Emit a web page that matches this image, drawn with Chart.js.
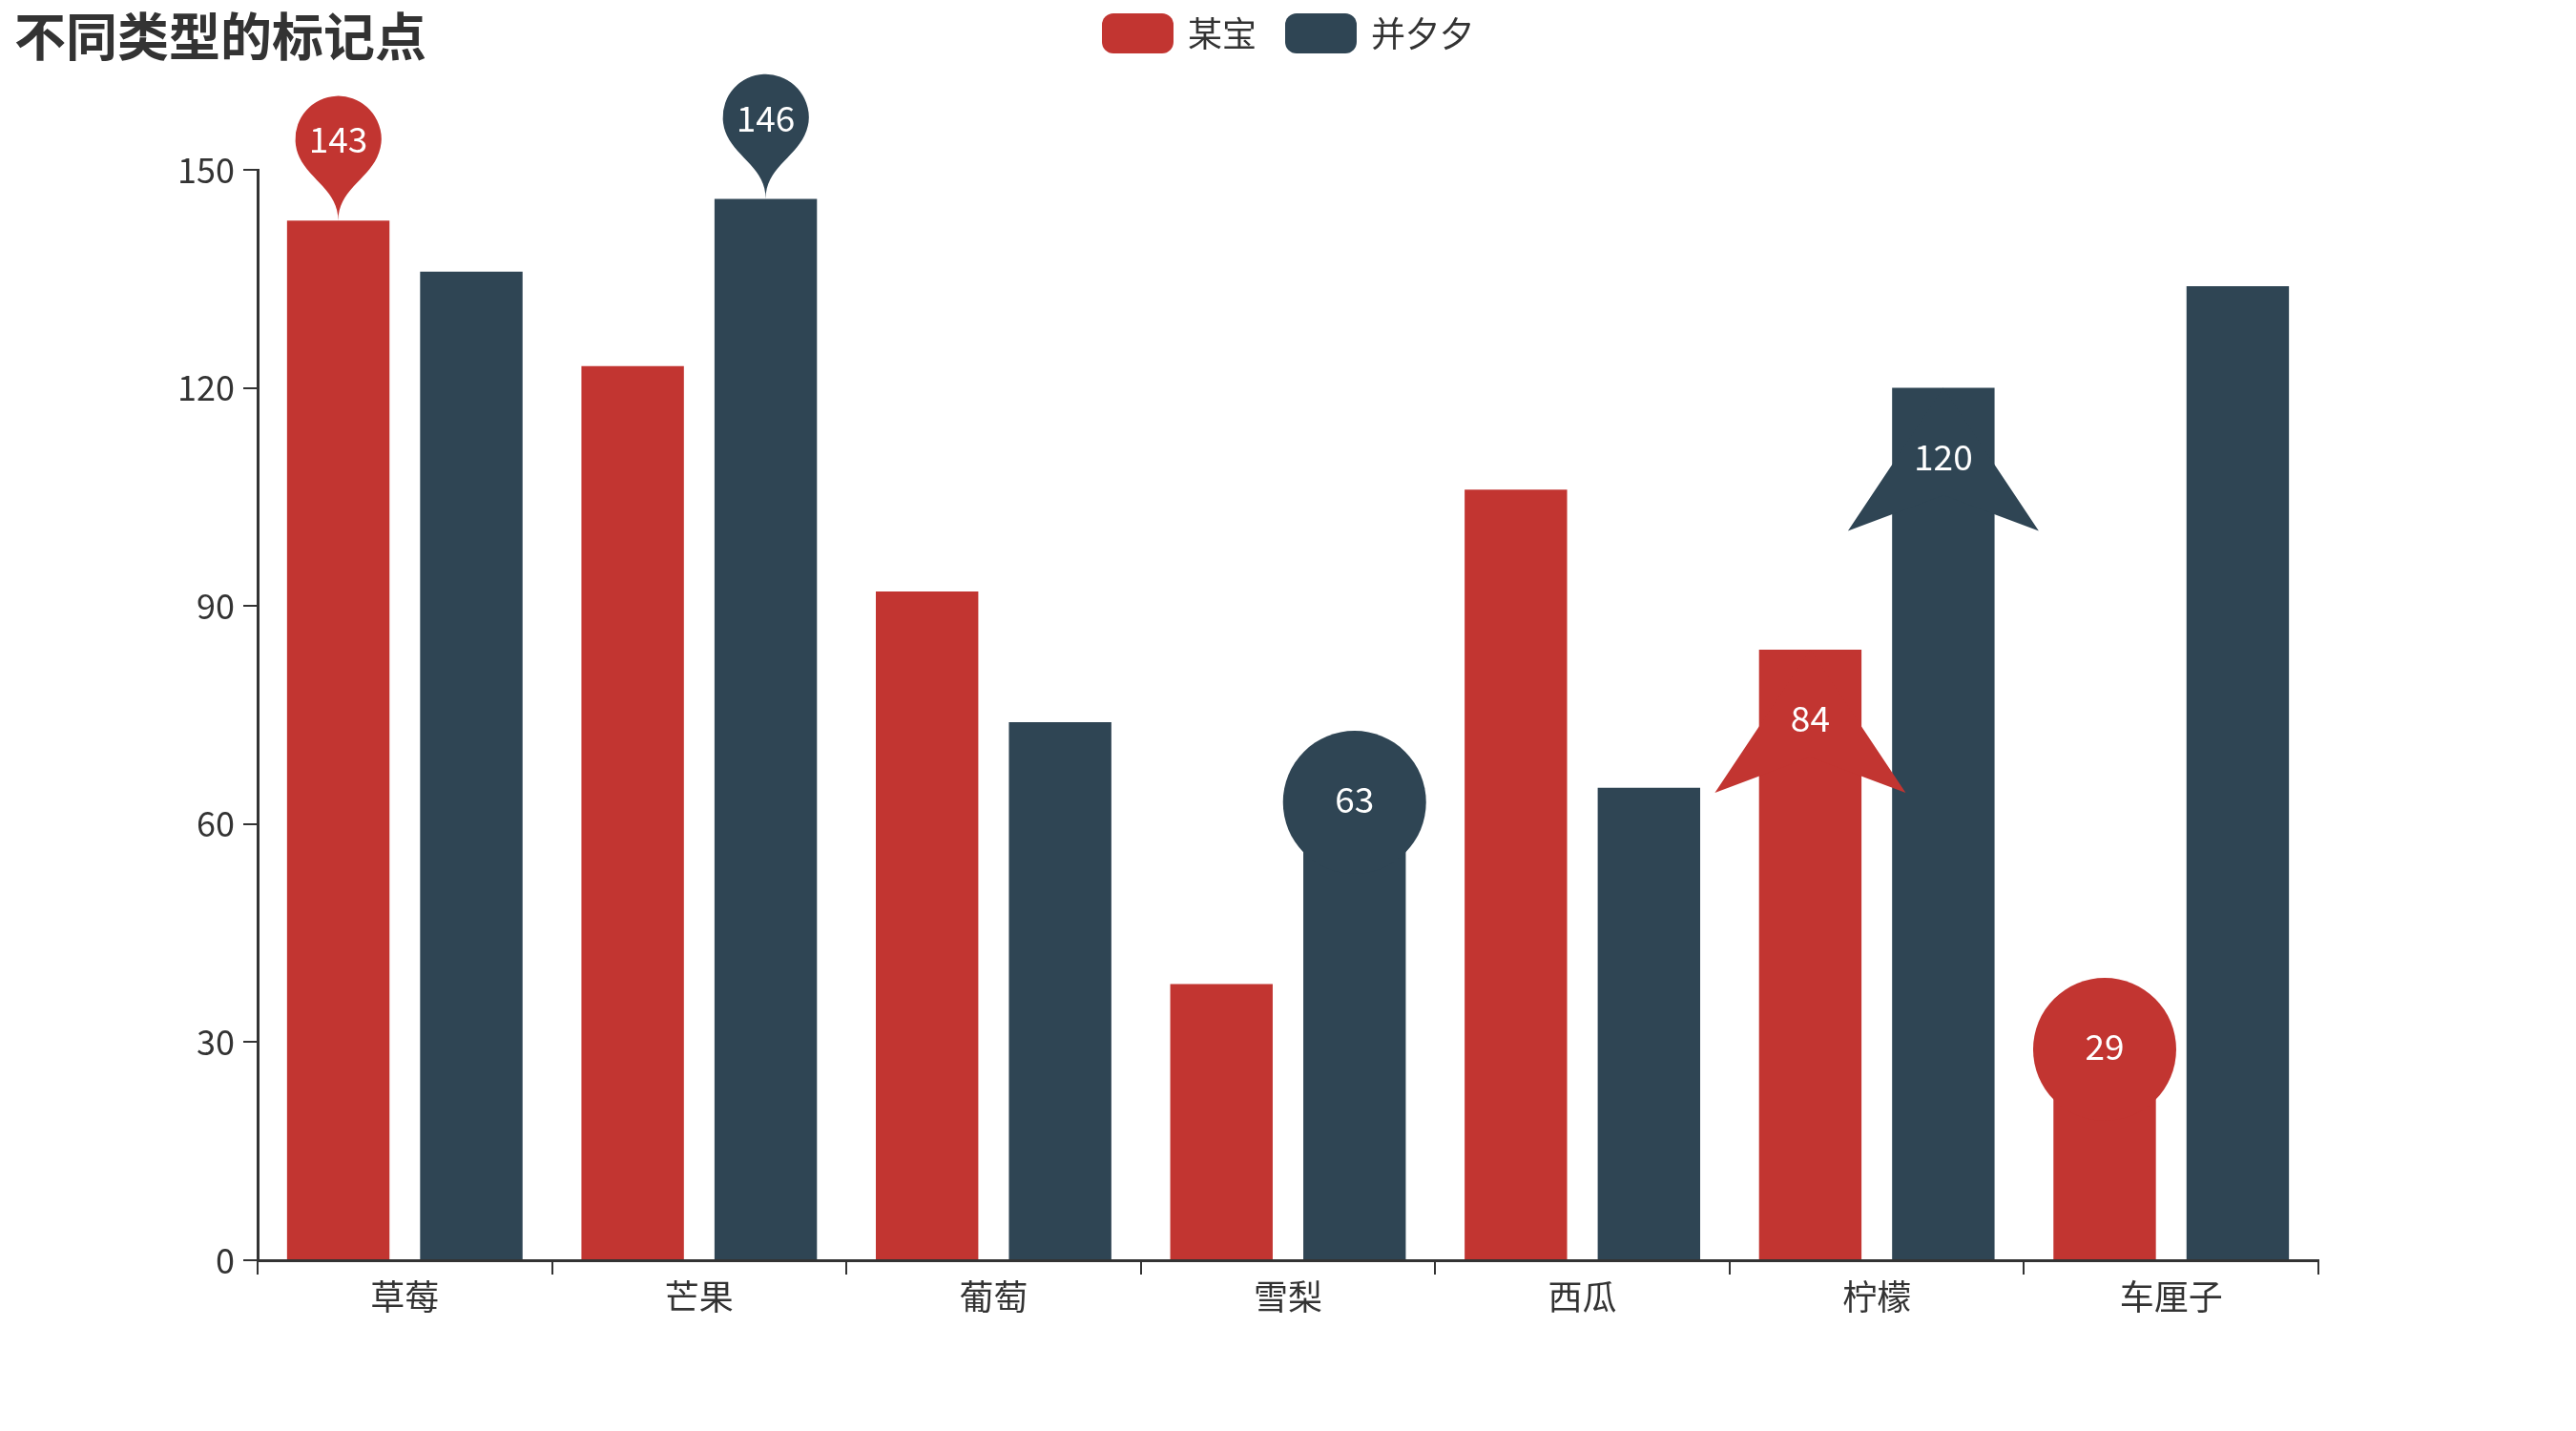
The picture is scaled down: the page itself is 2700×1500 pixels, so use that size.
<!DOCTYPE html>
<html>
<head>
<meta charset="utf-8">
<script src="https://cdn.jsdelivr.net/npm/chart.js@4"></script>
<style>
  html, body { margin: 0; padding: 0; background: #fff; }
</style>
</head>
<body>
<canvas id="myChart" width="2700" height="1500"></canvas>
<script>
const categories = ['草莓', '芒果', '葡萄', '雪梨', '西瓜', '柠檬', '车厘子'];
const seriesNames = ['某宝', '并夕夕'];
const valuesA = [143, 123, 92, 38, 106, 84, 29];
const valuesB = [136, 146, 74, 63, 65, 120, 134];
const yTicks = [0, 30, 60, 90, 120, 150];

// which category each mark point sits on, per series
const markIndexA = [0, 6, 5];
const markIndexB = [1, 3, 5];
const markSymbols = ['pin', 'circle', 'arrow'];

const colors = ['#c23531', '#2f4554'];
const FONT = '"Noto Sans CJK SC", "Noto Sans", sans-serif';
const titleText = '不同类型的标记点';

function drawPin(ctx, x, y) {
    // tip at (x, y), same geometry as echarts 'pin' at size 150
    const w = 90, h = 150;
    const r = w / 2;
    const dy = r * r / (h - r);
    const cy = y - h + r + dy;
    const angle = Math.asin(dy / r);
    const dx = Math.cos(angle) * r;
    const tanX = Math.sin(angle);
    const tanY = Math.cos(angle);
    const cpLen = r * 0.6;
    const cpLen2 = r * 0.7;
    ctx.beginPath();
    ctx.moveTo(x - dx, cy + dy);
    ctx.arc(x, cy, r, Math.PI - angle, Math.PI * 2 + angle);
    ctx.bezierCurveTo(x + dx - tanX * cpLen, cy + dy + tanY * cpLen, x, y - cpLen2, x, y);
    ctx.bezierCurveTo(x, y - cpLen2, x - dx + tanX * cpLen, cy + dy + tanY * cpLen, x - dx, cy + dy);
    ctx.closePath();
    ctx.fill();
    return y - 85;
}

function drawCircle(ctx, x, y) {
    ctx.beginPath();
    ctx.arc(x, y, 75, 0, Math.PI * 2);
    ctx.fill();
    return y - 3;
}

function drawArrow(ctx, x, y) {
    const h = 150, dx = 100;
    ctx.beginPath();
    ctx.moveTo(x, y);
    ctx.lineTo(x + dx, y + h);
    ctx.lineTo(x, y + h * 0.75);
    ctx.lineTo(x - dx, y + h);
    ctx.closePath();
    ctx.fill();
    return y + 72;
}

const markerPlugin = {
    id: 'markers',
    afterDatasetsDraw(chart) {
        const ctx = chart.ctx;
        const yScale = chart.scales.y;
        [markIndexA, markIndexB].forEach((idxs, d) => {
            const meta = chart.getDatasetMeta(d);
            const vals = chart.data.datasets[d].data;
            idxs.forEach((i, k) => {
                const x = meta.data[i].x;
                const y = yScale.getPixelForValue(vals[i]);
                ctx.save();
                ctx.fillStyle = colors[d];
                let ly;
                if (markSymbols[k] === 'pin') ly = drawPin(ctx, x, y);
                else if (markSymbols[k] === 'circle') ly = drawCircle(ctx, x, y);
                else ly = drawArrow(ctx, x, y);
                ctx.fillStyle = '#fff';
                ctx.font = '37px ' + FONT;
                ctx.textAlign = 'center';
                ctx.textBaseline = 'middle';
                ctx.fillText(String(vals[i]), x, ly);
                ctx.restore();
            });
        });
    }
};

const headerPlugin = {
    id: 'header',
    afterDraw(chart) {
        const ctx = chart.ctx;
        ctx.save();
        ctx.fillStyle = '#333';
        ctx.font = 'bold 54px ' + FONT;
        ctx.textBaseline = 'middle';
        ctx.textAlign = 'left';
        ctx.fillText(titleText, 15, 38);

        // legend
        ctx.font = '36px ' + FONT;
        const iconW = 75, iconH = 42, textGap = 15, itemGap = 30;
        const widths = seriesNames.map(n => iconW + textGap + ctx.measureText(n).width);
        const total = widths.reduce((a, b) => a + b, 0) + itemGap * (widths.length - 1);
        let x = chart.width / 2 - total / 2;
        const cy = 35;
        seriesNames.forEach((n, i) => {
            ctx.fillStyle = colors[i];
            ctx.beginPath();
            ctx.roundRect(x, cy - iconH / 2, iconW, iconH, 12);
            ctx.fill();
            ctx.fillStyle = '#333';
            ctx.fillText(n, x + iconW + textGap, cy);
            x += widths[i] + itemGap;
        });
        ctx.restore();
    }
};

const config = {
    type: 'bar',
    data: {
        labels: categories,
        datasets: [
            { label: seriesNames[0], data: valuesA, backgroundColor: colors[0] },
            { label: seriesNames[1], data: valuesB, backgroundColor: colors[1] }
        ]
    },
    options: {
        responsive: false,
        animation: false,
        categoryPercentage: 0.904,
        barPercentage: 0.77,
        layout: { padding: { top: 178, right: 270, left: 0, bottom: 0 } },
        plugins: {
            legend: { display: false },
            title: { display: false },
            tooltip: { enabled: false }
        },
        scales: {
            x: {
                offset: true,
                grid: {
                    offset: true,
                    drawOnChartArea: false,
                    drawTicks: true,
                    tickLength: 15,
                    color: '#333',
                    lineWidth: 2
                },
                border: { color: '#333', width: 3 },
                ticks: {
                    color: '#333',
                    font: { size: 36, family: FONT },
                    padding: 2,
                    maxRotation: 0,
                    autoSkip: false
                },
                afterFit: s => { s.height = 179; }
            },
            y: {
                min: 0,
                max: 150,
                afterBuildTicks: s => { s.ticks = yTicks.map(v => ({ value: v })); },
                grid: {
                    drawOnChartArea: false,
                    drawTicks: true,
                    tickLength: 15,
                    color: '#333',
                    lineWidth: 2
                },
                border: { color: '#333', width: 3 },
                ticks: {
                    color: '#333',
                    font: { size: 36, family: FONT },
                    padding: 9
                },
                afterFit: s => { s.width = 270; }
            }
        }
    },
    plugins: [markerPlugin, headerPlugin]
};

const myChart = new Chart(
    document.getElementById('myChart').getContext('2d'),
    config
);
</script>
</body>
</html>
